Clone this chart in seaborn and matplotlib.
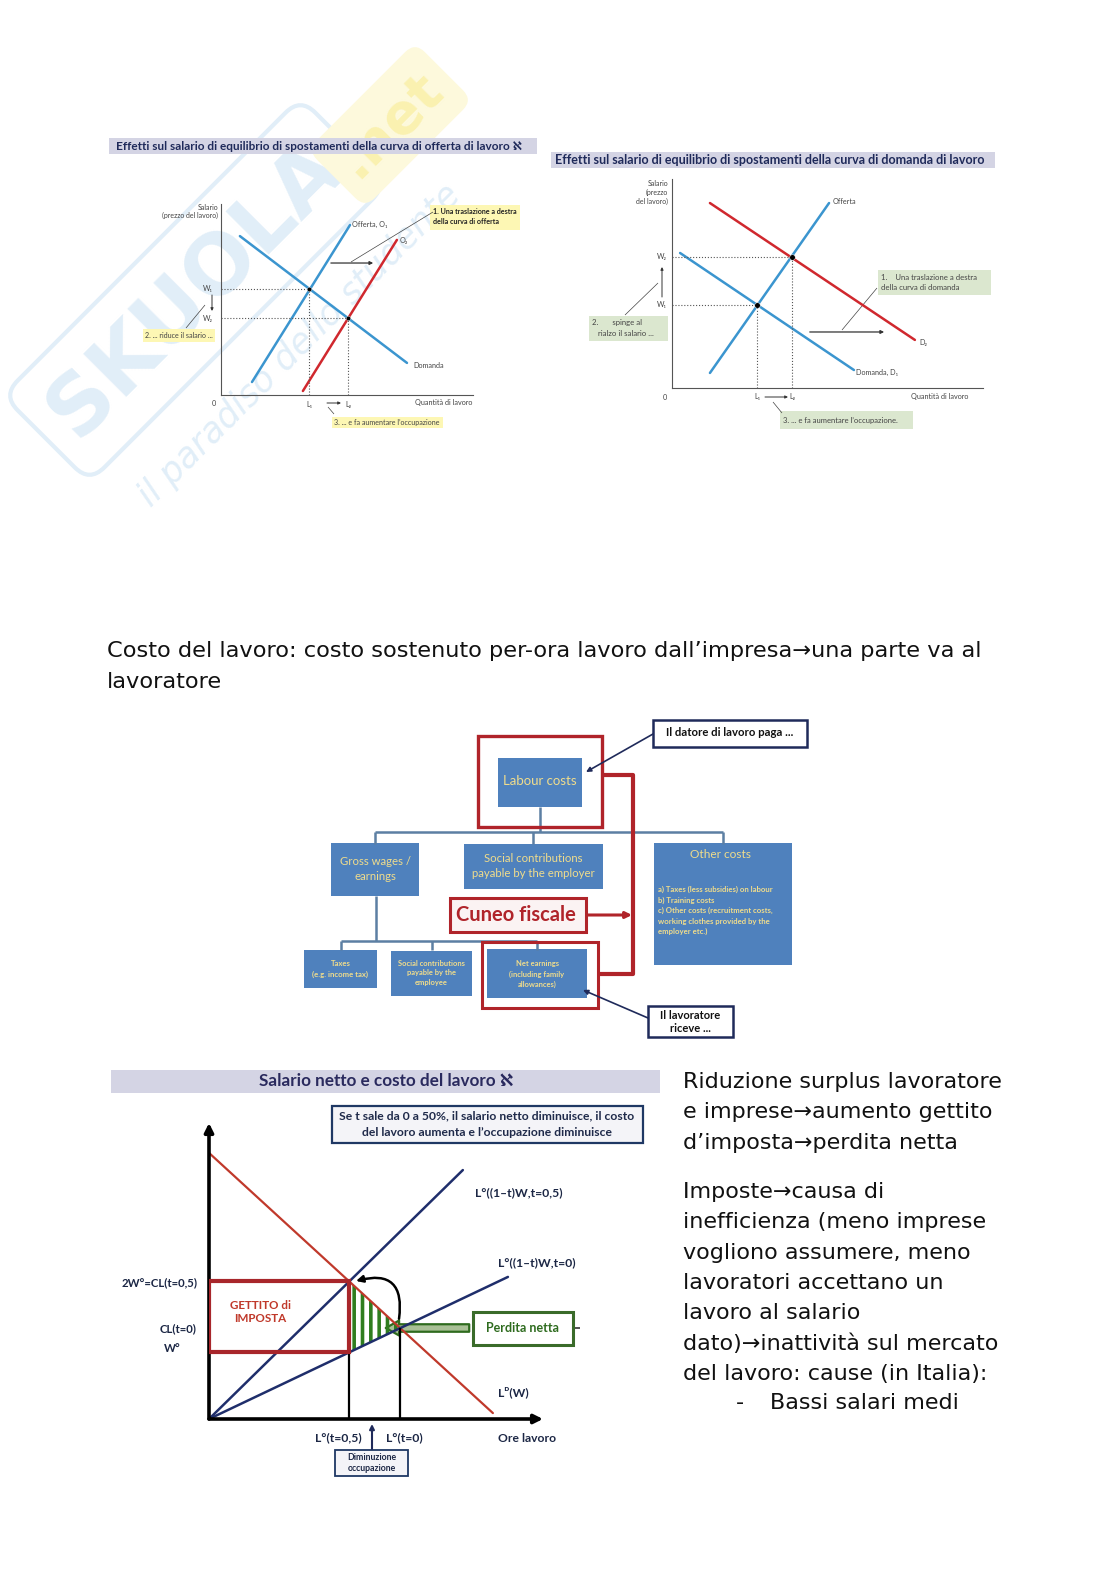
import numpy as np
import pandas as pd
import seaborn as sns
import matplotlib.pyplot as plt
from matplotlib.patches import Rectangle, Polygon, FancyArrowPatch

sns.set_theme(style='white')
plt.rcParams['font.family'] = ['DejaVu Sans']
plt.rcParams['hatch.linewidth'] = 2.6

W, H = 1116, 1579
SLIDE = ['Lato', 'DejaVu Sans']

# ---------------- data (both axes of each diagram on a 0-100 scale) ----------------
# diagram 1: shift of the labour supply curve
d1_demand_x = [7.5, 73.8]
d1_demand_y = [83.2, 16.8]
d1_supply1_x = [12.3, 51.2]
d1_supply1_y = [6.8, 89.0]
d1_supply2_x = [32.5, 69.8]
d1_supply2_y = [2.1, 81.2]
d1_eq_x = [34.9, 50.4]
d1_eq_y = [55.5, 40.3]
d1_shift = [42.5, 61.5, 69.1]          # from x, to x, at y

# diagram 2: shift of the labour demand curve
d2_supply_x = [12.2, 50.5]
d2_supply_y = [7.2, 88.5]
d2_demand1_x = [2.6, 58.5]
d2_demand1_y = [64.6, 8.6]
d2_demand2_x = [12.2, 78.1]
d2_demand2_y = [88.5, 23.0]
d2_eq_x = [27.3, 38.6]
d2_eq_y = [39.7, 62.7]
d2_shift = [43.4, 69.1, 26.8]

# diagram 3: net wage and labour cost
d3_demand_x = [0, 85.0]
d3_demand_y = [89.9, 2.0]
d3_supply05_x = [0, 76.0]
d3_supply05_y = [0, 84.1]
d3_supply0_x = [0, 89.5]
d3_supply0_y = [0, 48.0]
d3_L = [42.0, 57.3]              # L°(t=0,5), L°(t=0)
d3_wage = [22.5, 30.7, 46.5]     # W°, CL(t=0), 2W°=CL(t=0,5)

title1 = 'Effetti sul salario di equilibrio di spostamenti della curva di offerta di lavoro ℵ'
title2 = 'Effetti sul salario di equilibrio di spostamenti della curva di domanda di lavoro'
title3 = 'Salario netto e costo del lavoro ℵ'

top_lines = ['Costo del lavoro: costo sostenuto per-ora lavoro dall’impresa→una parte va al',
             'lavoratore']
right_par1 = ['Riduzione surplus lavoratore', 'e imprese→aumento gettito', 'd’imposta→perdita netta']
right_par2 = ['Imposte→causa di', 'inefficienza (meno imprese', 'vogliono assumere, meno',
              'lavoratori accettano un', 'lavoro al salario', 'dato)→inattività sul mercato',
              'del lavoro: cause (in Italia):']
right_bullet = 'Bassi salari medi'

# ---------------- page ----------------
fig = plt.figure(figsize=(W / 100, H / 100), dpi=100)
page = fig.add_axes([0, 0, 1, 1])
page.set_xlim(0, W)
page.set_ylim(H, 0)
page.axis('off')


def box(x0, y0, x1, y1, fc='none', ec='none', lw=1.0, z=2):
    page.add_patch(Rectangle((x0, y0), x1 - x0, y1 - y0, facecolor=fc, edgecolor=ec,
                             linewidth=lw, zorder=z))


def seg(xs, ys, color, lw=1.0, z=3, **kw):
    page.plot(xs, ys, color=color, lw=lw, zorder=z, solid_capstyle='butt', **kw)


def arrow(x0, y0, x1, y1, color, lw=1.0, ms=8, style='-|>', z=4, cs=None):
    props = dict(arrowstyle=style, color=color, lw=lw, mutation_scale=ms, shrinkA=0, shrinkB=0)
    if cs:
        props['connectionstyle'] = cs
    page.annotate('', xy=(x1, y1), xytext=(x0, y0), arrowprops=props, zorder=z)


def txt(x, y, s, size=5, color='#444444', ha='left', va='center', family=SLIDE, **kw):
    page.text(x, y, s, fontsize=size, color=color, ha=ha, va=va, family=family, zorder=6, **kw)


def diagram_axes(x0, y0, x1, y1, spine_color='#555555', lw=0.8):
    ax = fig.add_axes([x0 / W, 1 - y1 / H, (x1 - x0) / W, (y1 - y0) / H])
    ax.set_xlim(0, 100)
    ax.set_ylim(0, 100)
    ax.patch.set_alpha(0)
    ax.set_xticks([])
    ax.set_yticks([])
    for s in ['top', 'right']:
        ax.spines[s].set_visible(False)
    for s in ['left', 'bottom']:
        ax.spines[s].set_color(spine_color)
        ax.spines[s].set_linewidth(lw)
    return ax


# watermark
page.text(195, 290, 'SKUOLA', fontsize=60, fontweight='bold', color='#e1eef8', rotation=45,
          ha='center', va='center', zorder=0,
          bbox=dict(boxstyle='round,pad=0.25', fc='none', ec='#e1eef8', lw=3))
page.text(390, 125, '.net', fontsize=40, fontweight='bold', color='#faf1b0', rotation=45,
          ha='center', va='center', zorder=0,
          bbox=dict(boxstyle='round,pad=0.25', fc='#fdf9dc', ec='none'))
page.text(300, 345, 'il paradiso dello studente', fontsize=25, style='italic', color='#e1eef8',
          rotation=45, ha='center', va='center', zorder=0)

navy = '#1f2a5a'
lblue = '#3b95cf'
red = '#d0282e'

# ---------------- diagram 1 ----------------
box(109, 138, 537, 154, fc='#d4d4e4', z=1)
txt(116, 146, title1, size=8.5, color=navy, fontweight='bold')
ax1 = diagram_axes(221, 204, 473, 395)
sns.lineplot(x=d1_demand_x, y=d1_demand_y, ax=ax1, color=lblue, lw=1.8)
sns.lineplot(x=d1_supply1_x, y=d1_supply1_y, ax=ax1, color=lblue, lw=1.8)
sns.lineplot(x=d1_supply2_x, y=d1_supply2_y, ax=ax1, color=red, lw=1.8)
for ex, ey in zip(d1_eq_x, d1_eq_y):
    ax1.plot([0, ex], [ey, ey], ls=':', color='#555', lw=0.8)
    ax1.plot([ex, ex], [0, ey], ls=':', color='#555', lw=0.8)
sns.scatterplot(x=d1_eq_x, y=d1_eq_y, ax=ax1, color='black', s=10, zorder=5)
ax1.annotate('', xy=(d1_shift[1], d1_shift[2]), xytext=(d1_shift[0], d1_shift[2]),
             arrowprops=dict(arrowstyle='-|>', color='#333', lw=0.9, mutation_scale=5))

txt(218, 207, 'Salario', ha='right', size=5)
txt(218, 215, '(prezzo del lavoro)', ha='right', size=5)
txt(352, 224, 'Offerta, O₁', size=5.2)
txt(400, 240, 'O₂', size=5.2)
txt(413, 366, 'Domanda', size=5.2)
txt(214, 403, '0', ha='center', size=5.2)
txt(309, 405, 'L₁', ha='center', size=5.2)
txt(348, 405, 'L₂', ha='center', size=5.2)
txt(415, 403, 'Quantità di lavoro', size=5.2)
txt(213, 289, 'W₁', ha='right', size=5.2)
txt(213, 318, 'W₂', ha='right', size=5.2)
arrow(212, 295, 212, 311, '#333', lw=0.7, ms=4)
arrow(327, 403, 341, 403, '#333', lw=0.7, ms=4)
box(430, 205, 520, 230, fc='#fdf7b4', z=1)
txt(433, 212, '1. Una traslazione a destra', size=5.1, color='#222', fontweight='bold')
txt(433, 221, 'della curva di offerta', size=5.1, color='#222', fontweight='bold')
box(143, 329, 215, 342, fc='#fdf7b4', z=1)
txt(145, 335.5, '2. ... riduce il salario ...', size=5.1)
box(332, 417, 443, 428, fc='#fdf7b4', z=1)
txt(334, 422.5, '3. ... e fa aumentare l’occupazione', size=5.1)
seg([433, 351], [212, 262], '#444', lw=0.5)
seg([186, 205], [328, 305], '#444', lw=0.5)
seg([328, 334], [407, 414], '#444', lw=0.5)

# ---------------- diagram 2 ----------------
box(551, 152, 995, 168, fc='#d4d4e4', z=1)
txt(555, 160, title2, size=9.0, color=navy, fontweight='bold')
ax2 = diagram_axes(672, 179, 983, 388)
sns.lineplot(x=d2_supply_x, y=d2_supply_y, ax=ax2, color=lblue, lw=1.8)
sns.lineplot(x=d2_demand1_x, y=d2_demand1_y, ax=ax2, color=lblue, lw=1.8)
sns.lineplot(x=d2_demand2_x, y=d2_demand2_y, ax=ax2, color=red, lw=1.8)
for ex, ey in zip(d2_eq_x, d2_eq_y):
    ax2.plot([0, ex], [ey, ey], ls=':', color='#555', lw=0.8)
    ax2.plot([ex, ex], [0, ey], ls=':', color='#555', lw=0.8)
sns.scatterplot(x=d2_eq_x, y=d2_eq_y, ax=ax2, color='black', s=16, zorder=5)
ax2.annotate('', xy=(d2_shift[1], d2_shift[2]), xytext=(d2_shift[0], d2_shift[2]),
             arrowprops=dict(arrowstyle='-|>', color='#333', lw=0.9, mutation_scale=5))

txt(668, 183, 'Salario', ha='right', size=5)
txt(668, 192, '(prezzo', ha='right', size=5)
txt(668, 201, 'del lavoro)', ha='right', size=5)
txt(833, 202, 'Offerta', size=5.2)
txt(919, 342, 'D₂', size=5.2)
txt(856, 372, 'Domanda, D₁', size=5.2)
txt(665, 397, '0', ha='center', size=5.2)
txt(757, 397, 'L₁', ha='center', size=5.2)
txt(792, 397, 'L₂', ha='center', size=5.2)
txt(911, 397, 'Quantità di lavoro', size=5.2)
txt(667, 257, 'W₂', ha='right', size=5.2)
txt(667, 305, 'W₁', ha='right', size=5.2)
arrow(662, 297, 662, 267, '#333', lw=0.7, ms=4)
arrow(765, 397, 788, 397, '#333', lw=0.7, ms=4)
box(878, 270, 991, 295, fc='#dbe7cf', z=1)
txt(881, 277, '1.    Una traslazione a destra', size=5.6)
txt(881, 287, 'della curva di domanda', size=5.6)
box(589, 316, 668, 341, fc='#dbe7cf', z=1)
txt(592, 323, '2.       spinge al', size=5.6)
txt(598, 333, 'rialzo il salario ...', size=5.6)
box(780, 411, 913, 429, fc='#dbe7cf', z=1)
txt(783, 420, '3. ... e fa aumentare l’occupazione.', size=5.5)
seg([625, 658], [315, 283], '#444', lw=0.5)
seg([877, 842], [288, 330], '#444', lw=0.5)
seg([782, 773], [413, 402], '#444', lw=0.5)

# ---------------- body text ----------------
for i, line in enumerate(top_lines):
    txt(107, 651 + i * 31, line, size=16.2, color='#111', family=['DejaVu Sans'])

# ---------------- flowchart ----------------
fblue = '#4f81bd'
gold = '#efdc8c'
conn = '#5c7fa3'
dred = '#b0242a'

seg([540, 540], [807, 832], conn, lw=1.8)
seg([375, 723], [832, 832], conn, lw=1.8)
for x in [375, 533, 723]:
    seg([x, x], [832, 844], conn, lw=1.8)
seg([376, 376], [896, 941], conn, lw=1.8)
seg([341, 537], [941, 941], conn, lw=1.8)
for x in [341, 432, 537]:
    seg([x, x], [941, 950], conn, lw=1.8)

box(498, 758, 582, 807, fc=fblue)
txt(540, 781, 'Labour costs', size=9.5, color=gold, ha='center')
box(478, 736, 602, 827, ec=dred, lw=2.4, z=3)

box(331, 843, 419, 896, fc=fblue)
txt(375, 869, 'Gross wages /\nearnings', size=8.2, color=gold, ha='center', linespacing=1.45)
box(464, 844, 603, 889, fc=fblue)
txt(533, 866, 'Social contributions\npayable by the employer', size=8.2, color=gold, ha='center',
    linespacing=1.45)
box(654, 843, 792, 965, fc=fblue)
txt(721, 854, 'Other costs', size=8.6, color=gold, ha='center')
txt(658, 886, 'a) Taxes (less subsidies) on labour\nb) Training costs\n'
    'c) Other costs (recruitment costs,\nworking clothes provided by the\nemployer etc.)',
    size=5.6, color=gold, linespacing=1.55, fontweight='bold', va='top')

box(304, 950, 377, 988, fc=fblue)
txt(340.5, 969, 'Taxes\n(e.g. income tax)', size=5.6, color=gold, ha='center', linespacing=1.7,
    fontweight='bold')
box(391, 951, 472, 996, fc=fblue)
txt(431.5, 973, 'Social contributions\npayable by the\nemployee', size=5.4, color=gold,
    ha='center', linespacing=1.45, fontweight='bold')
box(487, 949, 587, 998, fc=fblue)
txt(537, 974, 'Net earnings\n(including family\nallowances)', size=5.4, color=gold, ha='center',
    linespacing=1.5, fontweight='bold')
box(482, 942, 598, 1008, ec=dred, lw=2.2, z=3)

box(450, 898, 586, 932, fc='#fbf3f3', ec=dred, lw=2.2, z=3)
txt(516, 915, 'Cuneo fiscale', size=14.5, color=dred, ha='center', fontweight='bold')
arrow(587, 915, 632, 915, dred, lw=2.2, ms=9)
seg([602, 633, 633, 597], [775, 775, 974, 974], dred, lw=3, z=3)

box(653, 720, 807, 747, fc='white', ec=navy, lw=1.8, z=3)
txt(730, 733, 'Il datore di lavoro paga ...', size=8.2, color='#111', ha='center', fontweight='bold')
arrow(653, 734, 586, 772, navy, lw=1.2, ms=7)
box(648, 1006, 733, 1037, fc='white', ec=navy, lw=1.8, z=3)
txt(690, 1022, 'Il lavoratore\nriceve ...', size=8, color='#111', ha='center', fontweight='bold',
    linespacing=1.15)
arrow(648, 1018, 583, 990, navy, lw=1.2, ms=7)

# ---------------- diagram 3 ----------------
box(111, 1070, 660, 1093, fc='#d4d4e4', z=1)
txt(386, 1081, title3, size=12.3, color='#2a2a5e', ha='center', fontweight='bold')
box(332, 1106, 643, 1143, fc='#f4f4f8', ec='#1f3864', lw=1.6, z=3)
txt(487, 1116, 'Se t sale da 0 a 50%, il salario netto diminuisce, il costo', size=8.7,
    color='#1f2a4a', ha='center', fontweight='bold')
txt(487, 1133, 'del lavoro aumenta e l’occupazione diminuisce', size=8.7, color='#1f2a4a',
    ha='center', fontweight='bold')

ax3 = diagram_axes(209, 1123, 543, 1419)
ax3.spines['left'].set_visible(False)
ax3.spines['bottom'].set_visible(False)
for tip in [(0, 100), (100, 0)]:
    ax3.annotate('', xy=tip, xytext=(0, 0), annotation_clip=False,
                 arrowprops=dict(arrowstyle='-|>', color='black', lw=2.6, mutation_scale=13,
                                 shrinkA=0, shrinkB=0))
sns.lineplot(x=d3_demand_x, y=d3_demand_y, ax=ax3, color='#c0392b', lw=1.6)
sns.lineplot(x=d3_supply05_x, y=d3_supply05_y, ax=ax3, color='#1f2e6b', lw=1.8)
sns.lineplot(x=d3_supply0_x, y=d3_supply0_y, ax=ax3, color='#1f2e6b', lw=1.8)
ax3.add_patch(Polygon([(d3_L[0], d3_wage[0]), (d3_L[0], d3_wage[2]), (d3_L[1], d3_wage[1])],
                      closed=True, facecolor='none', edgecolor='#2f7d1f', lw=0, hatch='||',
                      zorder=1))
ax3.add_patch(Rectangle((0, d3_wage[0]), d3_L[0], d3_wage[2] - d3_wage[0], facecolor='none',
                        edgecolor='#a8262b', lw=3, zorder=4))
ax3.vlines(d3_L, 0, [d3_wage[0], d3_wage[1]], color='black', lw=1.6)

lab = '#1c2745'
txt(198, 1283, '2W°=CL(t=0,5)', size=8.2, color=lab, ha='right', fontweight='bold')
txt(197, 1329, 'CL(t=0)', size=8.2, color=lab, ha='right', fontweight='bold')
txt(172, 1349, 'W°', size=8.2, color=lab, ha='center', fontweight='bold')
txt(260, 1312, 'GETTITO di\nIMPOSTA', size=8.4, color='#c0392b', ha='center', fontweight='bold',
    linespacing=1.3)
txt(475, 1193, 'L°((1–t)W,t=0,5)', size=8.7, color=lab, fontweight='bold')
txt(498, 1263, 'L°((1–t)W,t=0)', size=8.7, color=lab, fontweight='bold')
txt(498, 1392, 'Lᴰ(W)', size=8.7, color=lab, fontweight='bold')
txt(338, 1438, 'L°(t=0,5)', size=8.7, color=lab, ha='center', fontweight='bold')
txt(404, 1438, 'L°(t=0)', size=8.7, color=lab, ha='center', fontweight='bold')
txt(527, 1438, 'Ore lavoro', size=8.7, color=lab, ha='center', fontweight='bold')
arrow(372, 1449, 372, 1424, '#1f2a5a', lw=1.5, ms=7)
box(335, 1450, 408, 1476, fc='#f4f4f8', ec='#1f3864', lw=1.3, z=3)
txt(371.5, 1463, 'Diminuzione\noccupazione', size=6.3, color=lab, ha='center',
    fontweight='bold', linespacing=1.3)

arrow(399, 1319, 356, 1281, 'black', lw=1.8, ms=10, cs='arc3,rad=0.75')
page.add_patch(FancyArrowPatch((472, 1328), (383, 1328),
                               arrowstyle='simple,head_width=0.9,head_length=0.8,tail_width=0.45',
                               mutation_scale=12, facecolor='#a9c096', edgecolor='#2e6b1e',
                               lw=1.6, zorder=5))
box(473, 1312, 573, 1345, fc='white', ec='#3a6b2a', lw=2.2, z=5)
txt(523, 1328, 'Perdita netta', size=9, color='#2e6b1e', ha='center', fontweight='bold')
seg([573, 580], [1328, 1328], '#333', lw=1.2)

# ---------------- right column text ----------------
for i, line in enumerate(right_par1):
    txt(683, 1082 + i * 30.3, line, size=16, color='#111', family=['DejaVu Sans'])
for i, line in enumerate(right_par2):
    txt(683, 1192 + i * 30.3, line, size=16, color='#111', family=['DejaVu Sans'])
txt(740, 1403, '-', size=16, color='#111', ha='center', family=['DejaVu Sans'])
txt(770, 1403, right_bullet, size=16, color='#111', family=['DejaVu Sans'])

fig.savefig('out.png', dpi=100, facecolor='white')
